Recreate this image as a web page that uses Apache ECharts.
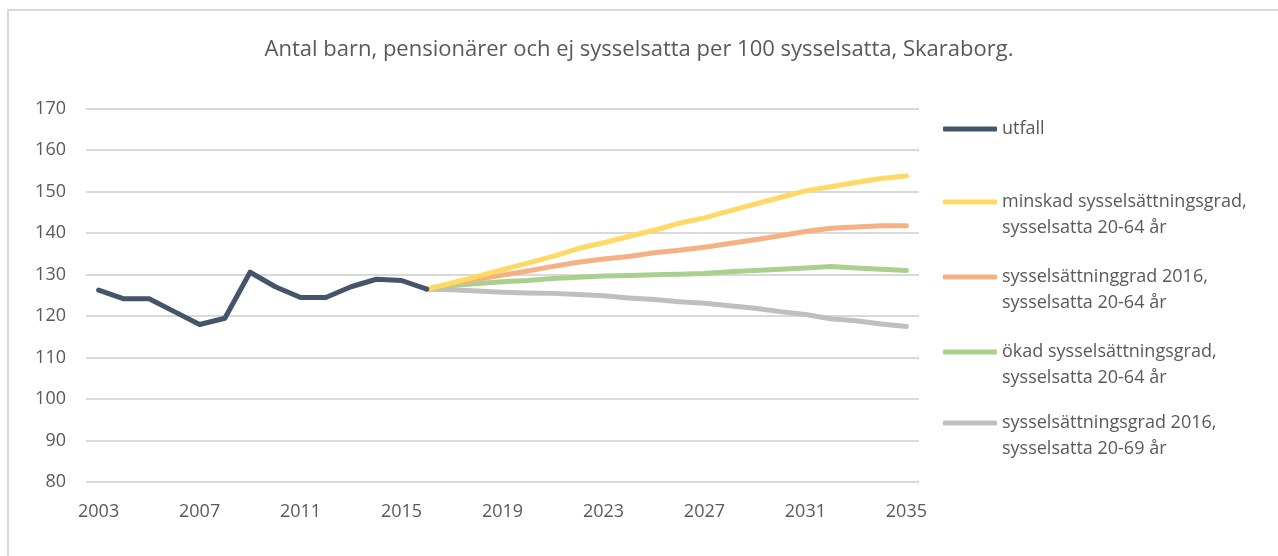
<!DOCTYPE html>
<html>
<head>
<meta charset="utf-8">
<script src="https://cdn.jsdelivr.net/npm/echarts@6/dist/echarts.min.js"></script>
<style>
  html, body { margin: 0; padding: 0; background: #fff; overflow: hidden; }
  #chart { width: 1278px; height: 556px; }
</style>
</head>
<body>
<div id="chart"></div>
<script>
// years 2003..2035
const years = [];
for (let y = 2003; y <= 2035; y++) years.push(String(y));

// utfall 2003-2016, then projections 2016-2035
const utfall = [126.3, 124.2, 124.2, 121.1, 118.0, 119.5, 130.6, 127.1, 124.5, 124.5, 127.1, 128.9, 128.6, 126.5];
const minskad = [126.5, 128.0, 129.6, 131.2, 132.8, 134.4, 136.3, 137.7, 139.2, 140.7, 142.4, 143.7, 145.4, 147.0, 148.6, 150.2, 151.2, 152.2, 153.2, 153.8];
const grad2016 = [126.5, 127.8, 128.9, 129.9, 130.9, 132.0, 133.0, 133.8, 134.4, 135.3, 135.9, 136.6, 137.5, 138.4, 139.4, 140.4, 141.2, 141.5, 141.8, 141.8];
const okad = [126.5, 127.4, 127.9, 128.3, 128.6, 129.1, 129.4, 129.7, 129.8, 130.0, 130.1, 130.3, 130.7, 131.0, 131.3, 131.6, 132.0, 131.6, 131.3, 131.0];
const grad2016_69 = [126.5, 126.4, 126.1, 125.8, 125.6, 125.5, 125.2, 124.9, 124.4, 124.0, 123.5, 123.1, 122.5, 121.9, 121.1, 120.4, 119.4, 118.9, 118.1, 117.5];

const names = [
  'utfall',
  'minskad sysselsättningsgrad,\nsysselsatta 20-64 år',
  'sysselsättninggrad 2016,\nsysselsatta 20-64 år',
  'ökad sysselsättningsgrad,\nsysselsatta 20-64 år',
  'sysselsättningsgrad 2016,\nsysselsatta 20-69 år'
];
const colors = ['#44546A', '#FFD966', '#F4B183', '#A9D18E', '#BFBFBF'];

// projections start at index of 2016
const startIdx = years.indexOf('2016');
const pad = (arr, offset) => years.map((_, i) => (i >= offset && i - offset < arr.length) ? arr[i - offset] : null);

const seriesData = [pad(utfall, 0), pad(minskad, startIdx), pad(grad2016, startIdx), pad(okad, startIdx), pad(grad2016_69, startIdx)];

const font = '"Open Sans", sans-serif';
const textColor = '#595959';

// one legend per item; icon centres wanted at these y values
const legendIconY = [129, 202, 277, 352, 423];
const lh = 26;
const legends = names.map((n, i) => {
  const multi = n.indexOf('\n') >= 0;
  return {
    data: [n],
    left: 938,
    // multi-line: leading blank line puts the icon on the first text line
    top: multi ? legendIconY[i] - 5 - 1.5 * lh : legendIconY[i] - 5 - 0.5 * lh,
    icon: 'roundRect',
    itemWidth: 54,
    itemHeight: 5,
    selectedMode: false,
    formatter: multi ? (name) => '\n' + name : '{name}',
    textStyle: { color: textColor, fontSize: 18, fontFamily: font, lineHeight: lh }
  };
});

const chart = echarts.init(document.getElementById('chart'));
chart.setOption({
  animation: false,
  color: colors,
  title: {
    text: 'Antal barn, pensionärer och ej sysselsatta per 100 sysselsatta, Skaraborg.',
    left: 'center',
    top: 34,
    textStyle: { color: textColor, fontSize: 22, fontWeight: 'normal', fontFamily: font }
  },
  legend: legends,
  grid: { left: 86, right: 359, top: 108.7, bottom: 73.8, containLabel: false },
  xAxis: {
    type: 'category',
    data: years,
    boundaryGap: true,
    axisLine: { show: false },
    axisTick: { show: false },
    axisLabel: { interval: 3, color: textColor, fontSize: 18, fontFamily: font, margin: 21 }
  },
  yAxis: {
    type: 'value',
    min: 80,
    max: 170,
    interval: 10,
    axisLine: { show: false },
    axisTick: { show: false },
    axisLabel: { color: textColor, fontSize: 18, fontFamily: font, margin: 20 },
    splitLine: { lineStyle: { color: '#D9D9D9', width: 2 } }
  },
  series: names.map((n, i) => ({
    name: n,
    type: 'line',
    data: seriesData[i],
    showSymbol: false,
    symbol: 'none',
    z: i === 0 ? 10 : 5 - i,
    lineStyle: { width: 5, color: colors[i], cap: 'round', join: 'round' },
    itemStyle: { color: colors[i] }
  })),
  graphic: [{
    type: 'rect',
    shape: { x: 8, y: 10, width: 1400, height: 700 },
    style: { fill: 'none', stroke: '#D9D9D9', lineWidth: 2 },
    silent: true
  }]
});
</script>
</body>
</html>
